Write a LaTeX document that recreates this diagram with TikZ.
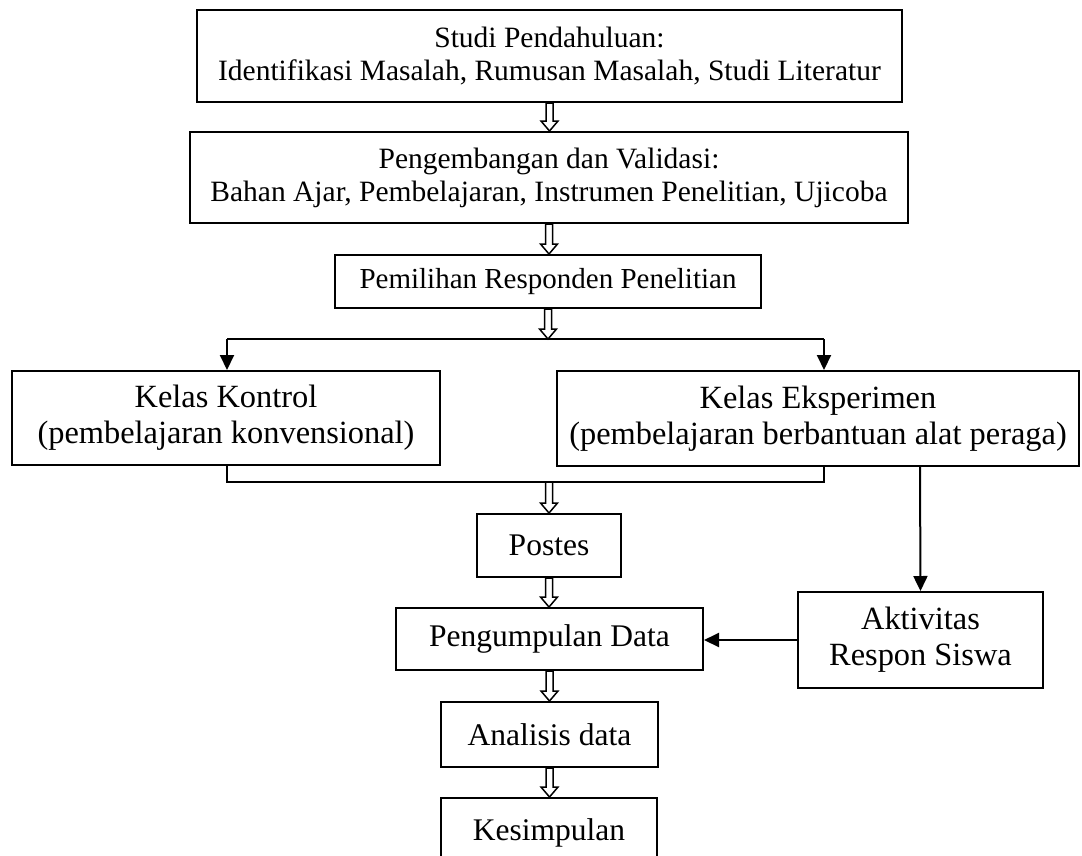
\documentclass[tikz,border=0pt]{standalone}
\usepackage{fontspec}
\setmainfont{Liberation Serif}
\usetikzlibrary{arrows.meta,calc}
\tikzset{
  box/.style={draw, line width=2pt, align=center, inner sep=0pt, anchor=center},
  fa/.style={font=\fontsize{29.5}{33}\selectfont},
  fp/.style={font=\fontsize{29}{33}\selectfont},
  fb/.style={font=\fontsize{31.5}{36}\selectfont},
  fk/.style={font=\fontsize{32.4}{36}\selectfont},
  con/.style={line width=2pt},
  arr/.style={line width=2pt, -{Triangle[length=15pt,width=14pt]}},
  hollow/.style={line width=1.5pt, fill=white, line join=miter}
}
\newcommand{\hollowarrow}[2]{%
  \draw[hollow] let \p1=(#1), \p2=(#2) in
    (\x1-3.5pt,\y1) -- (\x1-3.5pt,\y2+10pt) -- (\x1-8.5pt,\y2+10pt) -- (\x1,\y2)
    -- (\x1+8.5pt,\y2+10pt) -- (\x1+3.5pt,\y2+10pt) -- (\x1+3.5pt,\y1) -- cycle;}
\begin{document}
\begin{tikzpicture}[x=1pt,y=-1pt]
\clip (0,0) rectangle (1082,855);
\fill[white] (0,0) rectangle (1082,855);
\node[box,fa,minimum width=705pt,minimum height=92pt] (s1) at (549.5,56) {Studi Pendahuluan:\\Identifikasi Masalah, Rumusan Masalah, Studi Literatur};
\node[box,fa,minimum width=718pt,minimum height=91pt] (s2) at (549,177.5) {Pengembangan dan Validasi:\\Bahan Ajar, Pembelajaran, Instrumen Penelitian, Ujicoba};
\node[box,fp,minimum width=426pt,minimum height=53pt] (s3) at (548,281.5) {Pemilihan Responden Penelitian};
\node[box,fk,minimum width=428pt,minimum height=94pt] (kk) at (226,418) {Kelas Kontrol\\(pembelajaran konvensional)};
\node[box,fk,minimum width=522pt,minimum height=95pt] (ke) at (818,418.5) {Kelas Eksperimen\\(pembelajaran berbantuan alat peraga)};
\node[box,fb,minimum width=144pt,minimum height=63pt] (post) at (549,545.5) {Postes};
\node[box,fb,minimum width=307pt,minimum height=62pt] (peng) at (549.5,639) {Pengumpulan Data};
\node[box,fk,minimum width=245pt,minimum height=96pt] (akt) at (920.5,640) {Aktivitas\\Respon Siswa};
\node[box,fb,minimum width=217pt,minimum height=65pt] (ana) at (549.5,734.5) {Analisis data};
\node[box,fb,minimum width=216pt,minimum height=70pt] (kes) at (549,833) {Kesimpulan};

\coordinate (bl) at (227,339);
\coordinate (br) at (824,339);
\coordinate (bm) at (548,339);
\coordinate (ml) at (227,482);
\coordinate (mr) at (824,482);
\coordinate (mm) at (549,482);
\coordinate (ea) at (920,466);

\draw[con] (bl) -- (br);
\draw[arr] (bl) -- (bl |- kk.north);
\draw[arr] (br) -- (br |- ke.north);
\draw[con] (ml |- kk.south) -- (ml) -- (mr) -- (mr |- ke.south);
\draw[arr] (ea |- ke.south) -- (akt.north);
\draw[arr] (akt.west) -- (akt.west -| peng.east);

\hollowarrow{s1.south}{s2.north}
\hollowarrow{s2.south}{s3.north}
\hollowarrow{s3.south}{bm}
\hollowarrow{mm}{post.north}
\hollowarrow{post.south}{peng.north}
\hollowarrow{peng.south}{ana.north}
\hollowarrow{ana.south}{kes.north}
\end{tikzpicture}
\end{document}
